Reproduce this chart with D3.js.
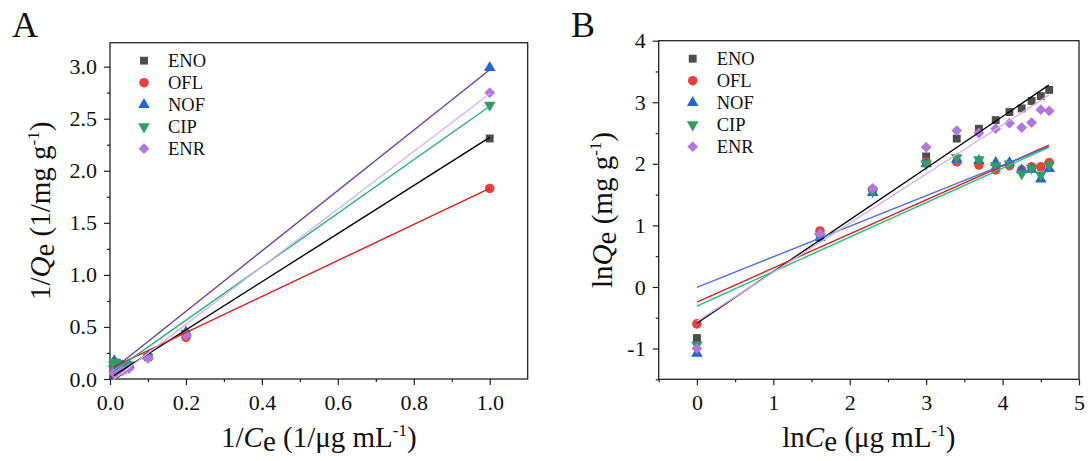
<!DOCTYPE html>
<html>
<head>
<meta charset="utf-8">
<script src="https://cdn.jsdelivr.net/npm/d3@7"></script>
<style>
  body { margin: 0; background: #fff; }
  svg { display: block; font-family: "Liberation Serif", "Times New Roman", serif; }
</style>
</head>
<body>
<div id="chart"></div>
<script>
// Series names and colours
const drugs = ["ENO", "OFL", "NOF", "CIP", "ENR"];
const markerColors = ["#4d4d4d", "#ee3f3f", "#2166d9", "#2f9e5f", "#b275e3"];
const lineColorsA = ["#000000", "#e01b1b", "#6a3fa3", "#22b27c", "#d6b3f5"];
const lineColorsB = ["#000000", "#d81e1e", "#4a6ee8", "#22c070", "#d3b0f2"];

// Panel A: Langmuir plot (1/Ce vs 1/Qe)
const invCe = [1, 0.2, 0.1, 0.05, 0.0333, 0.025, 0.02, 0.0167, 0.0143, 0.0125, 0.0111, 0.01];
const invQeENO = [2.31, 0.43, 0.21, 0.12, 0.090, 0.077, 0.067, 0.058, 0.055, 0.049, 0.045, 0.041];
const invQeOFL = [1.83, 0.40, 0.21, 0.13, 0.13, 0.14, 0.15, 0.14, 0.15, 0.14, 0.14, 0.13];
const invQeNOF = [2.99, 0.45, 0.22, 0.135, 0.126, 0.129, 0.133, 0.133, 0.150, 0.148, 0.174, 0.147];
const invQeCIP = [2.63, 0.44, 0.21, 0.135, 0.122, 0.126, 0.139, 0.135, 0.159, 0.145, 0.162, 0.138];
const invQeENR = [2.75, 0.42, 0.20, 0.10, 0.079, 0.082, 0.077, 0.070, 0.075, 0.069, 0.056, 0.057];
// fitted lines [slope, intercept], drawn over 1/Ce = 0.01 .. 1
const fitA = [[2.31, 0.01], [1.73, 0.10], [2.90, 0.07], [2.57, 0.05], [2.77, -0.03]];
const fitRangeA = [0.01, 1];
const xTicksA = [0, 0.2, 0.4, 0.6, 0.8, 1.0];
const yTicksA = [0, 0.5, 1.0, 1.5, 2.0, 2.5, 3.0];

// Panel B: Freundlich plot (lnCe vs lnQe)
const lnCe = [0, 1.61, 2.30, 3.00, 3.40, 3.69, 3.91, 4.09, 4.25, 4.38, 4.50, 4.61];
const lnQeENO = [-0.83, 0.85, 1.57, 2.12, 2.41, 2.57, 2.71, 2.84, 2.90, 3.02, 3.10, 3.20];
const lnQeOFL = [-0.60, 0.91, 1.58, 2.03, 2.03, 1.98, 1.90, 1.97, 1.90, 1.95, 1.95, 2.02];
const lnQeNOF = [-1.08, 0.80, 1.53, 2.00, 2.07, 2.05, 2.02, 2.02, 1.90, 1.91, 1.75, 1.92];
const lnQeCIP = [-0.94, 0.82, 1.55, 2.00, 2.10, 2.07, 1.97, 2.00, 1.84, 1.93, 1.82, 1.98];
const lnQeENR = [-1.00, 0.86, 1.60, 2.27, 2.54, 2.50, 2.57, 2.66, 2.59, 2.67, 2.88, 2.86];
const fitB = [[0.840, -0.59], [0.553, -0.245], [0.496, -0.006], [0.560, -0.31], [0.798, -0.56]];
const fitRangeB = [0, 4.605];
const xTicksB = [0, 1, 2, 3, 4, 5];
const yTicksB = [-1, 0, 1, 2, 3, 4];

const W = 1091, H = 461;
const serif = "'Liberation Serif', 'Times New Roman', serif";
const svg = d3.select("#chart").append("svg")
    .attr("width", W)
    .attr("height", H);

const symbols = [
    { type: d3.symbolSquare, rot: 0, size: 62 },
    { type: d3.symbolCircle, rot: 0, size: 72 },
    { type: d3.symbolTriangle, rot: 0, size: 58 },
    { type: d3.symbolTriangle, rot: 180, size: 58 },
    { type: d3.symbolSquare, rot: 45, size: 58 }
];

function drawPanel(p) {
    const x = d3.scaleLinear().domain(p.xDomain).range([p.left, p.right]);
    const y = d3.scaleLinear().domain(p.yDomain).range([p.bottom, p.top]);
    const g = svg.append("g");

    // frame
    g.append("rect")
        .attr("x", p.left).attr("y", p.top)
        .attr("width", p.right - p.left).attr("height", p.bottom - p.top)
        .attr("fill", "none").attr("stroke", "#222").attr("stroke-width", 1.3);

    // axes
    g.append("g")
        .attr("transform", `translate(0,${p.bottom})`)
        .call(d3.axisBottom(x).tickValues(p.xTicks).tickFormat(p.xFormat).tickSize(6).tickPadding(9));
    g.append("g")
        .attr("transform", `translate(0,${p.bottom})`)
        .call(d3.axisBottom(x).tickValues(p.xMinor).tickFormat("").tickSize(3));
    g.append("g")
        .attr("transform", `translate(${p.left},0)`)
        .call(d3.axisLeft(y).tickValues(p.yTicks).tickFormat(p.yFormat).tickSize(6).tickPadding(7));
    g.append("g")
        .attr("transform", `translate(${p.left},0)`)
        .call(d3.axisLeft(y).tickValues(p.yMinor).tickFormat("").tickSize(3));

    g.selectAll(".domain").remove();
    g.selectAll(".tick line").attr("stroke", "#222").attr("stroke-width", 1.2);
    g.selectAll(".tick text")
        .style("font-family", serif)
        .style("font-size", "22px")
        .attr("fill", "#111");

    // scatter points
    p.series.forEach((vals, i) => {
        const sym = symbols[i];
        g.append("g").selectAll("path")
            .data(vals.map((v, j) => [p.xs[j], v]))
            .join("path")
            .attr("d", d3.symbol().type(sym.type).size(sym.size))
            .attr("transform", d => `translate(${x(d[0])},${y(d[1])}) rotate(${sym.rot})`)
            .attr("fill", markerColors[i]);
    });

    // fitted lines
    p.fits.forEach((f, i) => {
        const pts = p.fitRange.map(v => [v, f[0] * v + f[1]]);
        g.append("path")
            .datum(pts)
            .attr("d", d3.line().x(d => x(d[0])).y(d => y(d[1])))
            .attr("fill", "none")
            .attr("stroke", p.lineColors[i])
            .attr("stroke-width", 1.4);
    });

    // legend
    const leg = g.append("g");
    drugs.forEach((name, i) => {
        const sym = symbols[i];
        const ly = p.top + 18 + i * 22;
        leg.append("path")
            .attr("d", d3.symbol().type(sym.type).size(sym.size))
            .attr("transform", `translate(${p.left + 34},${ly}) rotate(${sym.rot})`)
            .attr("fill", markerColors[i]);
        leg.append("text")
            .attr("x", p.left + 58).attr("y", ly + 6.5)
            .style("font-family", serif)
            .style("font-size", "18.5px")
            .attr("fill", "#111")
            .text(name);
    });

    // panel letter
    g.append("text")
        .attr("x", p.letterX).attr("y", 37)
        .style("font-family", serif)
        .style("font-size", "36px")
        .attr("fill", "#111")
        .text(p.letter);

    // axis titles
    const cx = (p.left + p.right) / 2;
    const xt = g.append("text")
        .attr("x", cx).attr("y", 447)
        .attr("text-anchor", "middle")
        .style("font-family", serif)
        .style("font-size", "29px")
        .attr("fill", "#111");
    p.xTitle(xt);

    const cy = (p.top + p.bottom) / 2;
    const yt = g.append("text")
        .attr("transform", `translate(${p.yTitleX},${cy}) rotate(-90)`)
        .attr("text-anchor", "middle")
        .style("font-family", serif)
        .style("font-size", "29px")
        .attr("fill", "#111");
    p.yTitle(yt);
}

function sup(t, s) {
    t.append("tspan").attr("dy", -11).style("font-size", "17px").text(s);
}

// hyphen minus for negative tick labels, as in the original
const intFmt = d => String(d);

drawPanel({
    letter: "A", letterX: 12,
    left: 110, right: 527.7, top: 42.7, bottom: 379,
    xDomain: [0, 1.1], yDomain: [0, 3.23],
    xTicks: xTicksA, yTicks: yTicksA,
    xMinor: [0.1, 0.3, 0.5, 0.7, 0.9], yMinor: [0.25, 0.75, 1.25, 1.75, 2.25, 2.75],
    xFormat: d3.format(".1f"), yFormat: d3.format(".1f"),
    xs: invCe,
    series: [invQeENO, invQeOFL, invQeNOF, invQeCIP, invQeENR],
    fits: fitA, fitRange: fitRangeA, lineColors: lineColorsA,
    yTitleX: 50,
    xTitle: t => {
        t.append("tspan").text("1/");
        t.append("tspan").attr("font-style", "italic").text("C");
        t.append("tspan").attr("dy", 4).text("e");
        t.append("tspan").attr("dy", -4).text(" (1/\u03bcg mL");
        sup(t, "-1");
        t.append("tspan").attr("dy", 11).text(")");
    },
    yTitle: t => {
        t.append("tspan").text("1/");
        t.append("tspan").attr("font-style", "italic").text("Q");
        t.append("tspan").attr("dy", 4).text("e");
        t.append("tspan").attr("dy", -4).text(" (1/mg g");
        sup(t, "-1");
        t.append("tspan").attr("dy", 11).text(")");
    }
});

drawPanel({
    letter: "B", letterX: 571,
    left: 658.7, right: 1079, top: 40.7, bottom: 379.3,
    xDomain: [-0.5, 5], yDomain: [-1.5, 4],
    xTicks: xTicksB, yTicks: yTicksB,
    xMinor: [-0.5, 0.5, 1.5, 2.5, 3.5, 4.5], yMinor: [-1.5, -0.5, 0.5, 1.5, 2.5, 3.5],
    xFormat: intFmt, yFormat: intFmt,
    xs: lnCe,
    series: [lnQeENO, lnQeOFL, lnQeNOF, lnQeCIP, lnQeENR],
    fits: fitB, fitRange: fitRangeB, lineColors: lineColorsB,
    yTitleX: 612,
    xTitle: t => {
        t.append("tspan").text("ln");
        t.append("tspan").attr("font-style", "italic").text("C");
        t.append("tspan").attr("dy", 4).text("e");
        t.append("tspan").attr("dy", -4).text(" (\u03bcg mL");
        sup(t, "-1");
        t.append("tspan").attr("dy", 11).text(")");
    },
    yTitle: t => {
        t.append("tspan").text("ln");
        t.append("tspan").attr("font-style", "italic").text("Q");
        t.append("tspan").attr("dy", 4).text("e");
        t.append("tspan").attr("dy", -4).text(" (mg g");
        sup(t, "-1");
        t.append("tspan").attr("dy", 11).text(")");
    }
});
</script>
</body>
</html>
